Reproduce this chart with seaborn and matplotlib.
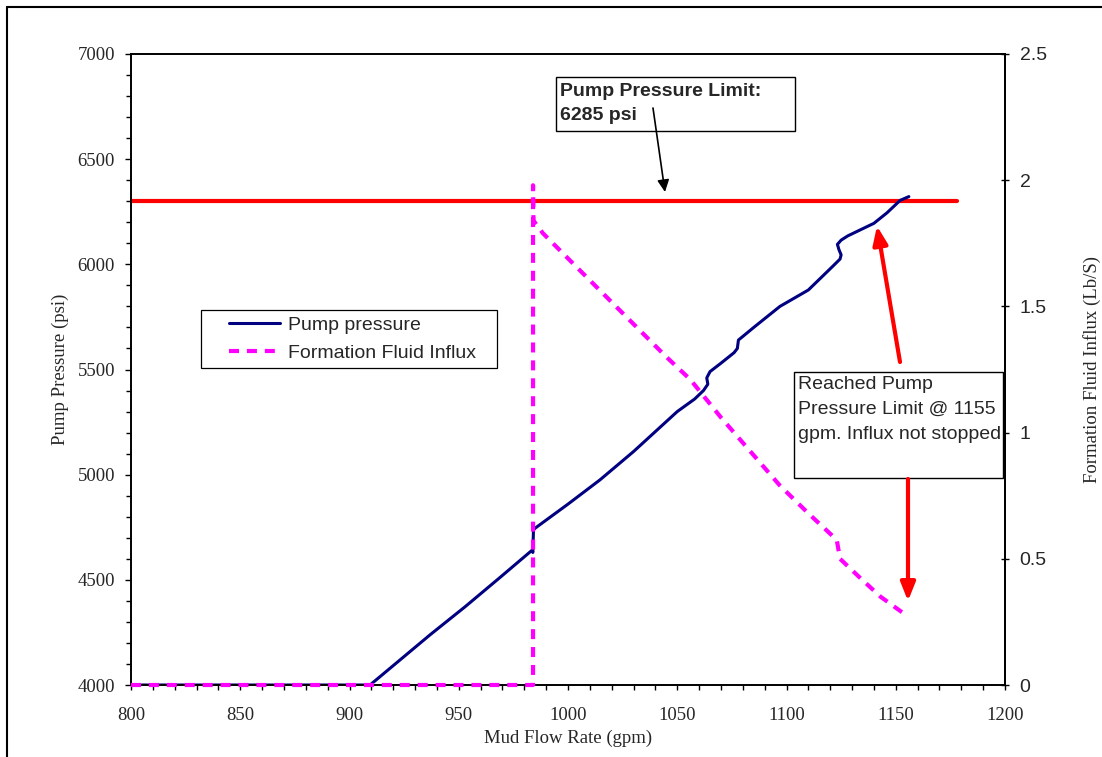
import numpy as np
import pandas as pd
import seaborn as sns
import matplotlib.pyplot as plt
from matplotlib.patches import Rectangle, FancyArrowPatch
from matplotlib.lines import Line2D
from matplotlib.ticker import MultipleLocator, FuncFormatter

sns.set_style('ticks')
plt.rcParams['font.family'] = ['Liberation Sans', 'DejaVu Sans']
SERIF = 'Liberation Serif'

# values
flow_pp = [800, 909.4, 936.8, 952.9, 968.4, 983.7, 983.9, 984.2, 985, 1000, 1014.6, 1030,
           1050, 1058, 1062, 1064, 1063.5, 1065, 1070, 1076, 1077.5, 1078, 1085, 1097,
           1110, 1121, 1124.5, 1125, 1124, 1123.3, 1125, 1128, 1134, 1140, 1146, 1152, 1156]
pump_pressure = [4000, 4000, 4238, 4372, 4507, 4642, 4630, 4737, 4746, 4860, 4975, 5110,
                 5300, 5360, 5400, 5430, 5460, 5490, 5530, 5580, 5600, 5640, 5700, 5800,
                 5878, 5989, 6025, 6045, 6070, 6095, 6115, 6135, 6165, 6195, 6245, 6304, 6322]

flow_inf = [800, 984, 984, 984.2, 988.5, 1000, 1015, 1030, 1045, 1056, 1070, 1085, 1097,
            1110, 1123, 1124.5, 1133, 1143, 1155]
influx = [0, 0, 1.98, 1.84, 1.79, 1.69, 1.56, 1.43, 1.30, 1.21, 1.06, 0.91, 0.79,
          0.68, 0.575, 0.50, 0.43, 0.35, 0.275]

limit_flow = [800, 1178]
limit_psi = [6300, 6300]

W, H = 1102, 757


def fp(x, y):
    return x / W, 1 - y / H


fig = plt.figure(figsize=(W / 100, H / 100), dpi=100)
ax = fig.add_axes([131 / W, 1 - 685 / H, 874 / W, 631 / H])
ax2 = ax.twinx()

sns.lineplot(x=limit_flow, y=limit_psi, color='#ff0000', lw=3, ax=ax)
sns.lineplot(x=flow_pp, y=pump_pressure, sort=False, estimator=None,
             color='#000080', lw=2.2, ax=ax)
pp_line = ax.lines[-1]
sns.lineplot(x=flow_inf, y=influx, sort=False, estimator=None, color='#ff00ff',
             lw=3, linestyle=(0, (2.4, 1.9)), ax=ax2)
inf_line = ax2.lines[-1]
inf_line.set_clip_on(False)
inf_line.set_zorder(3)

ax.set_xlim(800, 1200)
ax.set_ylim(4000, 7000)
ax2.set_ylim(0, 2.5)
ax.xaxis.set_major_locator(MultipleLocator(50))
ax.xaxis.set_minor_locator(MultipleLocator(10))
ax.yaxis.set_major_locator(MultipleLocator(500))
ax.yaxis.set_minor_locator(MultipleLocator(100))
ax2.yaxis.set_major_locator(MultipleLocator(0.5))
ax2.yaxis.set_major_formatter(FuncFormatter(lambda v, p: '%g' % v))

for s in ax.spines.values():
    s.set_visible(True)
    s.set_color('black')
    s.set_linewidth(1.4)
for k in ['left', 'top', 'bottom']:
    ax2.spines[k].set_visible(False)
ax2.spines['right'].set_color('black')
ax2.spines['right'].set_linewidth(1.4)

ax.tick_params(axis='x', which='both', direction='out', length=3.6, width=1,
               color='black', pad=12, labelsize=13.5, labelfontfamily=SERIF)
ax.tick_params(axis='y', which='major', direction='out', length=4.5, width=1,
               color='black', pad=7, labelsize=13.5, labelfontfamily=SERIF)
ax.tick_params(axis='y', which='minor', direction='out', length=3.5, width=1, color='black')
ax2.tick_params(axis='y', which='major', direction='inout', length=5.8, width=1,
                color='black', pad=7.7, labelsize=14, labelfontfamily='Liberation Sans')

ax.set_xlabel('Mud Flow Rate (gpm)', fontfamily=SERIF, fontsize=13.5, labelpad=4)
ax.set_ylabel('Pump Pressure (psi)', fontfamily=SERIF, fontsize=13.5, labelpad=6)
ax2.set_ylabel('Formation Fluid Influx (Lb/S)', fontfamily=SERIF, fontsize=13.5, labelpad=26)

# legend with a square frame
ax2.add_patch(Rectangle(fp(201, 368), 296 / W, 58 / H, transform=fig.transFigure,
                        facecolor='white', edgecolor='black', lw=0.9, zorder=4, clip_on=False))
leg = ax2.legend(handles=[pp_line, inf_line], labels=['Pump pressure', 'Formation Fluid Influx'],
                 loc='upper left', bbox_to_anchor=fp(229, 316), bbox_transform=fig.transFigure,
                 frameon=False, borderpad=0, borderaxespad=0, fontsize=14,
                 handlelength=2.63, handletextpad=0.4, labelspacing=0.56)
leg.set_zorder(5)

# annotation boxes
fig.add_artist(Rectangle(fp(556, 131), 239 / W, 54 / H, transform=fig.transFigure,
                         facecolor='white', edgecolor='black', lw=1.0, zorder=3))
fig.text(*fp(560, 83), 'Pump Pressure Limit:\n6285 psi', fontsize=14, fontweight='bold',
         va='top', ha='left', linespacing=1.53, zorder=4)
fig.add_artist(Rectangle(fp(794, 478.5), 209 / W, 106 / H, transform=fig.transFigure,
                         facecolor='white', edgecolor='black', lw=1.0, zorder=3))
fig.text(*fp(798, 376), 'Reached Pump\nPressure Limit @ 1155\ngpm. Influx not stopped',
         fontsize=14, va='top', ha='left', linespacing=1.6, zorder=4)

fig.add_artist(FancyArrowPatch(fp(653, 108), fp(665, 192), transform=fig.transFigure,
                               arrowstyle='-|>,head_length=0.45,head_width=0.22',
                               mutation_scale=16, color='black', lw=1.2,
                               shrinkA=0, shrinkB=0, zorder=5))
fig.add_artist(FancyArrowPatch(fp(900, 362), fp(877, 226), transform=fig.transFigure,
                               arrowstyle='-|>,head_length=0.5,head_width=0.2',
                               mutation_scale=22, color='#ff0000', lw=3,
                               shrinkA=0, shrinkB=0, zorder=5))
fig.add_artist(FancyArrowPatch(fp(908, 479), fp(908, 601), transform=fig.transFigure,
                               arrowstyle='-|>,head_length=0.5,head_width=0.2',
                               mutation_scale=22, color='#ff0000', lw=3,
                               shrinkA=0, shrinkB=0, zorder=5))

# outer frame of the picture
fig.add_artist(Line2D([7 / W, 7 / W], [0, 1 - 7 / H], transform=fig.transFigure,
                      color='black', lw=1.5))
fig.add_artist(Line2D([7 / W, 1], [1 - 7 / H, 1 - 7 / H], transform=fig.transFigure,
                      color='black', lw=1.5))

fig.savefig('out.png', dpi=100)
